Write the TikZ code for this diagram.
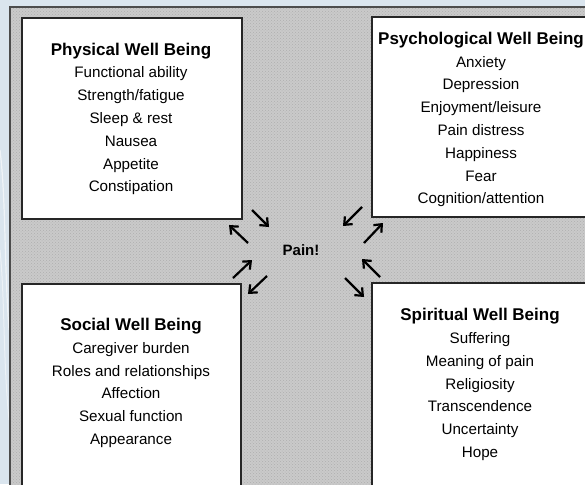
\documentclass[tikz,border=0pt]{standalone}
\usepackage{fontspec}
\setmainfont{Liberation Sans}
\usetikzlibrary{arrows.meta,patterns}
\definecolor{bgblue}{RGB}{218,229,238}
\definecolor{panelgray}{RGB}{202,202,202}
\definecolor{dotgray}{RGB}{175,175,175}
\tikzset{
  wbox/.style={draw=black!85,line width=1.3pt,fill=white},
  boxtext/.style={align=center,inner sep=0pt,text=black,
    font=\fontsize{15.2}{22.8}\selectfont},
  relarrow/.style={line width=2.2pt,black,-{Straight Barb[length=6.5pt,width=11pt,line width=2.2pt]}},
}
\newcommand{\ttl}[1]{{\fontsize{17}{22.8}\selectfont\bfseries #1}}
\begin{document}
\begin{tikzpicture}[x=1pt,y=-1pt]
\useasboundingbox (0,0) rectangle (585,484);
\clip (0,0) rectangle (585,484);
% outer background
\fill[bgblue] (0,0) rectangle (585,484);
\draw[white,opacity=0.6,line width=1.2pt] (0,150) .. controls (6,200) and (4,260) .. (9,330);
\draw[white,opacity=0.5,line width=1pt] (0,250) .. controls (5,300) and (3,360) .. (9,420);
% textured panel
\fill[panelgray] (10,7) rectangle (590,490);
\fill[pattern=crosshatch dots,pattern color=dotgray] (10,7) rectangle (590,490);
\draw[black!70,line width=1.3pt] (10,490) -- (10,7) -- (590,7);
% four boxes
\node[wbox,minimum width=220pt,minimum height=201pt,inner sep=0pt] (physbox) at (132,118.5) {};
\node[wbox,minimum width=218pt,minimum height=200pt,inner sep=0pt] (psychbox) at (481,117) {};
\node[wbox,minimum width=219pt,minimum height=220pt,inner sep=0pt] (socbox) at (131.5,394) {};
\node[wbox,minimum width=224pt,minimum height=220pt,inner sep=0pt] (spirbox) at (484,393) {};
% texts
\node[boxtext] (phystext) at (131,119) {\ttl{Physical Well Being}\\Functional ability\\Strength/fatigue\\Sleep \& rest\\Nausea\\Appetite\\Constipation};
\node[boxtext] (psychtext) at (481,119.5) {\ttl{Psychological Well Being}\\Anxiety\\Depression\\Enjoyment/leisure\\Pain distress\\Happiness\\Fear\\Cognition/attention};
\node[boxtext] (soctext) at (131,383) {\ttl{Social Well Being}\\Caregiver burden\\Roles and relationships\\Affection\\Sexual function\\Appearance};
\node[boxtext] (spirtext) at (480,384.5) {\ttl{Spiritual Well Being}\\Suffering\\Meaning of pain\\Religiosity\\Transcendence\\Uncertainty\\Hope};
\node[inner sep=0pt,font=\fontsize{15}{18}\selectfont\bfseries,text=black] (pain) at (301,250) {Pain!};
% arrow end points
\coordinate (a1s) at (252,210); \coordinate (a1e) at (269,227);
\coordinate (a2s) at (248,243); \coordinate (a2e) at (229,225);
\coordinate (a3s) at (233,278); \coordinate (a3e) at (252,260);
\coordinate (a4s) at (267,276); \coordinate (a4e) at (248,294);
\coordinate (a5s) at (362,207); \coordinate (a5e) at (343,226);
\coordinate (a6s) at (364,243); \coordinate (a6e) at (383,223);
\coordinate (a7s) at (380,277); \coordinate (a7e) at (362,259);
\coordinate (a8s) at (345,278); \coordinate (a8e) at (364,297);
\foreach \i in {1,...,8} {\draw[relarrow] (a\i s) -- (a\i e);}
\end{tikzpicture}
\end{document}
